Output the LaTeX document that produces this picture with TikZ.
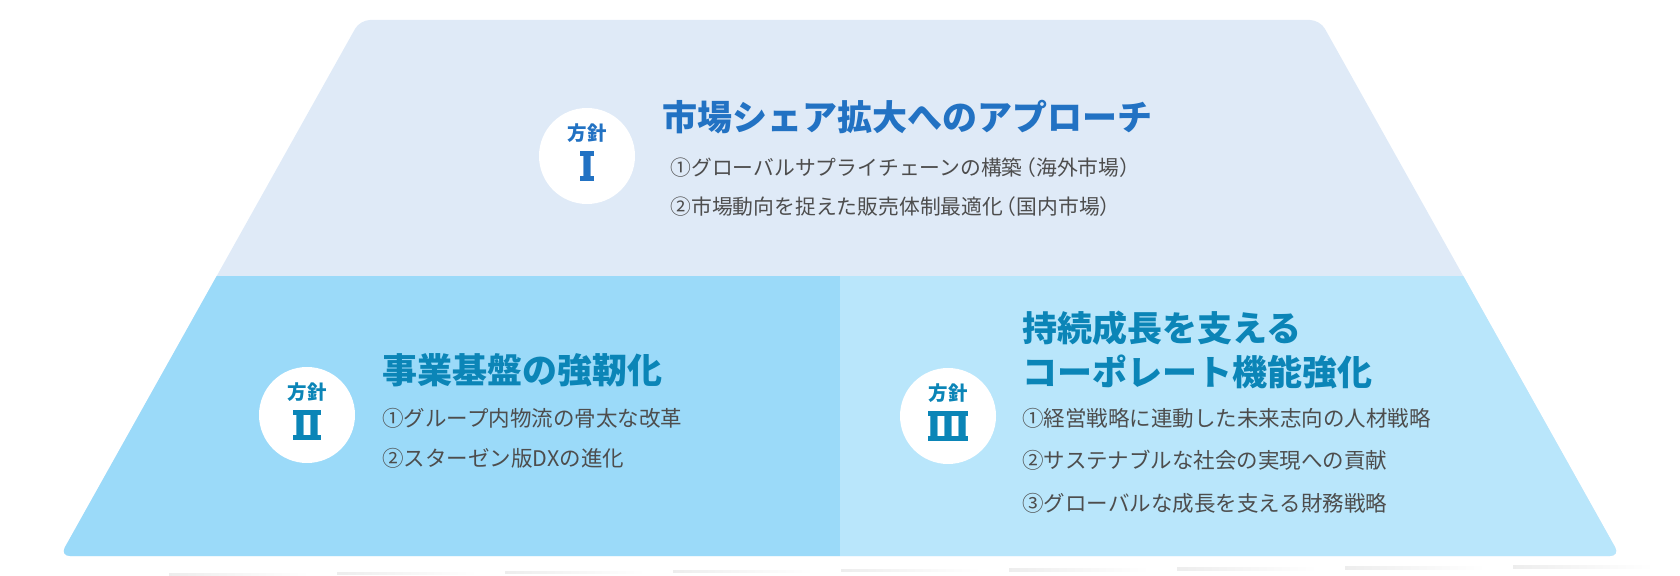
\documentclass[tikz,border=0pt]{standalone}
\usepackage{fontspec}
\setmainfont{Noto Sans CJK JP}
\usetikzlibrary{positioning}

\definecolor{bandtop}{HTML}{DFEAF7}
\definecolor{bandleft}{HTML}{9BDAF9}
\definecolor{bandright}{HTML}{B9E6FB}
\definecolor{headblue}{HTML}{2272C3}
\definecolor{headteal}{HTML}{0B85B7}
\definecolor{itemgray}{HTML}{4D4D4D}

\tikzset{
  badge/.style={circle, fill=white, minimum size=48pt, inner sep=0pt},
  hoshin/.style={inner sep=0pt, font=\fontsize{9.75}{10}\selectfont\bfseries},
  numeral/.style={inner sep=0pt, font=\fontsize{20}{20}\selectfont\bfseries},
  heading/.style={anchor=west, inner sep=0pt, align=left, font=\fontsize{17.5}{22}\selectfont\bfseries},
  item/.style={anchor=west, inner sep=0pt, text=itemgray, font=\fontsize{10.75}{12}\selectfont}
}

\begin{document}
\begin{tikzpicture}[x=0.5pt, y=-0.5pt]
    \useasboundingbox (0,0) rectangle (1680,576);

    % Faint shadow under the base
    \foreach \i in {0,...,8}
        \shade[left color=black!7, right color=white] (169+168*\i,{573-0.9*\i}) rectangle ++(140,2.5);

    % Pyramid
    \fill[bandtop, rounded corners=5pt] (360,20) -- (1320,20) -- (1620,556) -- (60,556) -- cycle;
    \begin{scope}
        \clip[rounded corners=5pt] (360,20) -- (1320,20) -- (1620,556) -- (60,556) -- cycle;
        \fill[bandleft] (0,276) rectangle (840,600);
        \fill[bandright] (840,276) rectangle (1680,600);
    \end{scope}

    % Policy I
    \node[badge] (p1) at (587,156) {};
    \node[hoshin, text=headblue] (p1h) at ([yshift=11.5pt]p1.center) {方針};
    \node[numeral, text=headblue] (p1n) at ([yshift=-5.25pt]p1.center) {Ⅰ};
    \node[heading, text=headblue] (t1) at (662,117) {市場シェア拡大へのアプローチ};
    \foreach \t [count=\k] in {①グローバルサプライチェーンの構築\kern-.35em（海外市場）, ②市場動向を捉えた販売体制最適化\kern-.35em（国内市場）}
        \node[item, font=\fontsize{10.4}{12}\selectfont] (i1\k) at (670,{168+39*(\k-1)}) {\t};

    % Policy II
    \node[badge] (p2) at (307,415) {};
    \node[hoshin, text=headteal] (p2h) at ([yshift=11.5pt]p2.center) {方針};
    \node[numeral, text=headteal] (p2n) at ([yshift=-5.25pt]p2.center) {Ⅱ};
    \node[heading, text=headteal] (t2) at (382,370) {事業基盤の強靭化};
    \foreach \t [count=\k] in {①グループ内物流の骨太な改革, ②スターゼン版DXの進化}
        \node[item] (i2\k) at (382,{418+40*(\k-1)}) {\t};

    % Policy III
    \node[badge] (p3) at (948,416) {};
    \node[hoshin, text=headteal] (p3h) at ([yshift=11.5pt]p3.center) {方針};
    \node[numeral, text=headteal] (p3n) at ([yshift=-5.25pt]p3.center) {Ⅲ};
    \node[heading, text=headteal] (t3) at (1022,350) {持続成長を支える\\コーポレート機能強化};
    \foreach \t [count=\k] in {①経営戦略に連動した未来志向の人材戦略, ②サステナブルな社会の実現への貢献, ③グローバルな成長を支える財務戦略}
        \node[item] (i3\k) at (1022,{418+42.5*(\k-1)}) {\t};

    % Bars on the numerals
    \foreach \n/\c/\w in {p1n/headblue/3.6, p2n/headteal/6.8, p3n/headteal/9.8} {
        \fill[\c] ([xshift=-\w pt]\n.north) rectangle ([xshift=\w pt, yshift=-2.5pt]\n.north);
        \fill[\c] ([xshift=-\w pt]\n.base) rectangle ([xshift=\w pt, yshift=2.5pt]\n.base);
    }
\end{tikzpicture}
\end{document}
